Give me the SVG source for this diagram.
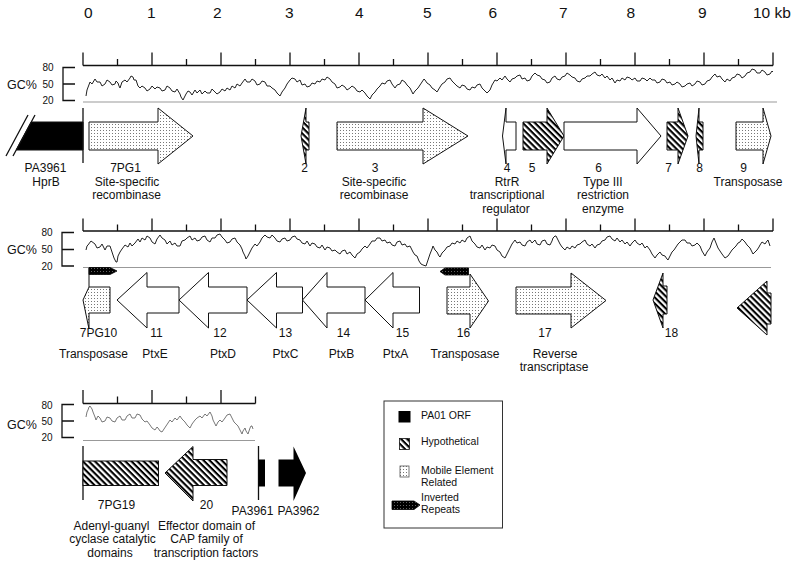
<svg xmlns="http://www.w3.org/2000/svg" width="800" height="566" viewBox="0 0 800 566">
<style>
text{font-family:"Liberation Sans",Arial,sans-serif;fill:#111}
.sc{font-size:15.5px}
.lb{font-size:12px;text-anchor:middle}
.gc{font-size:12.5px}
.tk{font-size:10px;text-anchor:middle}
.lg{font-size:10.5px}
.ax{stroke:#111;stroke-width:1.3;fill:none}
.base{stroke:#999;stroke-width:1;fill:none}
.curve{stroke:#222;stroke-width:1;fill:none;stroke-linejoin:round}
.curve3{stroke:#555;stroke-width:0.8;fill:none}
.g{stroke:#111;stroke-width:1}
.w{fill:#fff}
.d{fill:url(#dots)}
.h{fill:url(#hatch)}
.b{fill:#000}
.ir{fill:url(#irp);stroke:#000;stroke-width:0.8}
</style>
<defs>
<pattern id="dots" width="3" height="3" patternUnits="userSpaceOnUse"><rect width="3" height="3" fill="#fff"/><rect x="1" y="1" width="1" height="1" fill="#777"/></pattern>
<pattern id="hatch" width="4.3" height="4.3" patternUnits="userSpaceOnUse" patternTransform="rotate(45)"><rect width="4.3" height="4.3" fill="#fff"/><rect width="4.3" height="2.1" fill="#000"/></pattern>
<pattern id="irp" width="3" height="3" patternUnits="userSpaceOnUse"><rect width="3" height="3" fill="#000"/><rect x="1" y="1" width="0.8" height="0.8" fill="#999"/></pattern>
</defs>

<g id="scale">
<text class="sc" x="84" y="18">0</text>
<text class="sc" x="147" y="18">1</text>
<text class="sc" x="213" y="18">2</text>
<text class="sc" x="285" y="18">3</text>
<text class="sc" x="355" y="18">4</text>
<text class="sc" x="423" y="18">5</text>
<text class="sc" x="488.5" y="18">6</text>
<text class="sc" x="559" y="18">7</text>
<text class="sc" x="626.5" y="18">8</text>
<text class="sc" x="698" y="18">9</text>
<text class="sc" x="753" y="18">10 kb</text>
</g>

<g id="row1-axis">
<path class="ax" d="M83,65.5H773M83,52.5V65.5M152,52.5V65.5M221,52.5V65.5M290,52.5V65.5M359,52.5V65.5M428,52.5V65.5M497,52.5V65.5M566,52.5V65.5M635,52.5V65.5M704,52.5V65.5M773,52.5V65.5M117.5,59V65.5M186.5,59V65.5M255.5,59V65.5M324.5,59V65.5M393.5,59V65.5M462.5,59V65.5M531.5,59V65.5M600.5,59V65.5M669.5,59V65.5M738.5,59V65.5"/>
<path class="ax" d="M75,67.5H63V100.5H75M63,84H75"/>
<text class="gc" x="7" y="89">GC%</text>
<text class="tk" x="48" y="71">80</text>
<text class="tk" x="48" y="87.5">50</text>
<text class="tk" x="48" y="104">20</text>
<path class="base" d="M83,102H777"/>
<polyline class="curve" points="86,96 87,90 90,82 92,84 95,79 97,82 100,82 102,86 105,84 107,80 110,82 112,85 115,84 116,81 118,83 119,86 120,88 122,82 125,80 127,82 130,78 131,76 133,77 134,80 136,80 138,86 140,88 142,86 145,88 147,91 150,89 152,86 155,89 157,87 160,88 162,91 165,90 167,86 170,88 172,91 175,92 177,89 180,94 181,97 183,100 185,96 186,94 188,91 190,92 192,95 195,90 197,93 200,90 202,94 205,91 207,93 210,93 212,89 215,92 217,94 220,92 222,89 225,91 227,88 230,90 232,86 235,88 237,84 240,86 242,83 245,79 247,82 250,82 252,79 255,81 257,85 260,84 262,81 265,82 267,86 270,86 272,88 275,90 277,93 280,96 282,92 285,88 287,84 290,80 292,78 295,79 297,82 300,80 302,85 305,84 307,87 310,86 312,83 315,84 317,81 320,82 322,79 325,80 327,77 330,79 332,82 335,84 337,88 340,87 342,85 345,87 347,90 350,88 352,86 355,88 357,91 360,92 362,90 365,93 367,96 370,99 372,95 375,92 377,89 380,86 382,83 385,84 387,81 390,80 392,84 395,88 397,85 400,84 402,80 405,82 407,85 410,88 412,92 413,94 415,91 418,88 420,85 422,82 424,79 425,80 427,83 430,85 432,88 435,90 437,92 440,87 442,84 445,82 447,79 450,78 452,81 455,84 457,86 460,88 462,85 465,86 467,89 470,90 472,87 475,88 477,85 480,84 482,88 485,91 487,93 490,90 492,85 495,80 497,81 500,78 502,80 505,76 507,79 510,82 512,79 515,78 517,76 520,75 522,79 525,78 527,81 530,80 532,76 535,73 537,75 540,76 542,79 545,80 547,83 550,82 552,78 555,76 557,79 560,80 562,77 565,76 567,73 570,75 572,77 575,78 577,81 580,82 582,79 585,78 587,76 590,76 592,74 595,72 597,75 600,76 602,74 605,78 607,76 610,80 612,78 615,83 617,80 620,81 622,78 625,80 627,77 630,78 632,80 635,78 637,81 640,81 642,78 645,79 647,81 650,78 652,80 655,80 657,83 660,82 662,79 665,80 667,83 670,82 672,85 675,84 677,82 680,84 682,87 685,86 687,84 690,83 692,86 695,84 697,81 700,82 702,85 705,84 707,81 710,80 712,77 715,74 717,77 720,76 722,79 725,82 727,79 730,81 732,78 735,77 737,74 740,75 742,78 745,76 747,73 750,72 752,69 755,70 757,73 760,73 762,70 765,72 767,75 770,74 772,71 773,72"/>
</g>

<g id="hprB">
<path class="g b" d="M16.2,150L31.2,122H83V150Z"/>
<path class="ax" d="M6,156L28,115M13,156L35,115M83,108V163"/>
<text class="lb" x="45.5" y="171.5">PA3961</text>
<text class="lb" x="46" y="185.5">HprB</text>
</g>
<g id="gene-7PG1">
<path class="g d" d="M89,122H158V108L193,136L158,164V150H89Z"/>
<text class="lb" x="125.5" y="171.5">7PG1</text>
<text class="lb" x="127" y="185.5">Site-specific</text>
<text class="lb" x="126.5" y="199">recombinase</text>
</g>
<g id="gene-2">
<path class="g h" d="M306,108L301,136L306,164V150H309V122H306Z"/>
<text class="lb" x="304.5" y="171.5">2</text>
</g>
<g id="gene-3">
<path class="g d" d="M337,122H423V108L468,136L423,164V150H337Z"/>
<text class="lb" x="375" y="171.5">3</text>
<text class="lb" x="374" y="185.5">Site-specific</text>
<text class="lb" x="374" y="199">recombinase</text>
</g>
<g id="gene-4">
<path class="g w" d="M506,108L502.5,136L506,164V150H516V122H506Z"/>
<text class="lb" x="507" y="171.5">4</text>
<text class="lb" x="507" y="185.5">RtrR</text>
<text class="lb" x="507" y="199">transcriptional</text>
<text class="lb" x="506" y="212.5">regulator</text>
</g>
<g id="gene-5">
<path class="g h" d="M523,122H547V108L564,136L547,164V150H523Z"/>
<text class="lb" x="532" y="171.5">5</text>
</g>
<g id="gene-6">
<path class="g w" d="M564,122H637V108L661,136L637,164V150H564Z"/>
<text class="lb" x="598.5" y="171.5">6</text>
<text class="lb" x="603" y="185.5">Type III</text>
<text class="lb" x="603" y="199">restriction</text>
<text class="lb" x="603" y="212.5">enzyme</text>
</g>
<g id="gene-7">
<path class="g h" d="M667,122H678V108L688,136L678,164V150H667Z"/>
<text class="lb" x="668.5" y="171.5">7</text>
</g>
<g id="gene-8">
<path class="g h" d="M699,108L696,136L699,164V150H703V122H699Z"/>
<text class="lb" x="699.5" y="171.5">8</text>
</g>
<g id="gene-9">
<path class="g d" d="M736,122H763V108L771,136L763,164V150H736Z"/>
<text class="lb" x="743.5" y="171.5">9</text>
<text class="lb" x="748" y="185.5">Transposase</text>
</g>

<g id="row2-axis">
<path class="ax" d="M83,231H773M83,218.5V231M152,218.5V231M221,218.5V231M290,218.5V231M359,218.5V231M428,218.5V231M497,218.5V231M566,218.5V231M635,218.5V231M704,218.5V231M773,218.5V231M117.5,224.5V231M186.5,224.5V231M255.5,224.5V231M324.5,224.5V231M393.5,224.5V231M462.5,224.5V231M531.5,224.5V231M600.5,224.5V231M669.5,224.5V231M738.5,224.5V231"/>
<path class="ax" d="M74,232.5H62V266H74M62,249.5H74"/>
<text class="gc" x="7" y="254">GC%</text>
<text class="tk" x="47" y="236">80</text>
<text class="tk" x="47" y="253">50</text>
<text class="tk" x="47" y="269.5">20</text>
<path class="base" d="M83,267.5H771"/>
<polyline class="curve" points="86,250 87,246 88,245 91,241 95,244 97,248 100,247 102,244 105,250 107,246 110,246 112,252 114,258 116,262 117,262 118,256 120,252 122,249 125,245 128,247 130,243 132,246 135,243 138,239 140,242 142,238 145,240 147,236 150,238 152,242 155,244 157,239 160,235 162,238 165,240 167,244 170,241 172,245 175,243 177,246 180,246 182,241 185,240 187,238 190,236 192,240 195,238 197,241 200,240 202,237 205,236 207,240 210,242 212,238 215,238 217,235 220,234 222,237 225,240 227,243 230,242 232,239 235,238 237,242 240,245 242,249 243,252 245,256 246,259 248,256 250,252 252,248 255,244 257,246 260,242 262,238 265,235 267,237 270,238 272,235 275,238 277,241 280,242 282,239 285,238 287,241 290,240 292,237 295,236 297,239 300,240 302,243 305,244 307,241 310,246 312,243 315,244 317,247 320,248 322,245 325,250 327,247 330,248 332,251 335,250 337,252 340,254 342,251 345,250 347,254 350,252 352,255 355,258 357,254 360,252 362,249 365,246 367,248 370,244 372,241 375,241 377,238 380,238 382,241 385,240 387,243 390,242 392,245 395,246 397,242 400,241 402,245 405,244 407,247 410,246 412,250 413,252 415,255 417,256 419,261 421,264 423,265 426,266 428,260 430,254 432,249 433,246 435,250 437,252 439,256 440,257 442,253 445,250 447,247 450,246 452,243 455,244 457,241 460,243 462,240 465,242 467,238 470,236 472,241 475,244 477,247 480,248 482,245 485,250 487,247 490,248 492,245 495,246 497,250 500,252 502,256 505,258 507,254 510,248 512,244 515,240 517,243 520,242 522,245 525,246 527,242 530,240 532,243 535,240 537,244 540,245 542,241 545,240 547,244 550,245 552,241 553,238 555,236 556,236 558,240 560,244 562,247 565,250 567,247 570,249 572,246 575,248 577,245 580,244 582,242 585,240 587,244 590,246 592,244 595,248 597,245 600,244 602,241 605,240 607,237 610,236 612,239 615,241 617,238 620,242 622,240 625,244 627,242 630,246 632,243 635,240 637,243 640,245 642,243 645,248 647,246 650,250 652,254 655,258 657,255 660,252 662,255 665,256 667,259 668,260 670,256 672,252 674,250 676,247 678,244 680,242 682,240 685,240 687,243 690,243 692,246 695,245 697,243 700,246 702,251 705,256 707,252 710,248 712,242 714,238 716,243 718,248 720,251 722,254 725,258 728,256 730,253 732,250 734,248 736,246 738,243 740,242 742,239 745,242 747,245 750,248 752,252 753,254 755,252 757,250 759,247 760,245 762,242 765,244 767,241 768,240 770,246"/>
</g>

<g id="ir-1">
<path class="ir" d="M89,267.5H110L117,271L110,274.5H89Z"/>
</g>
<g id="gene-7PG10">
<path class="g d" d="M89,268V287H110V313H89V329L83,300L89,287"/>
<text class="lb" x="98.5" y="337">7PG10</text>
<text class="lb" x="93.5" y="357.5">Transposase</text>
</g>
<g id="gene-11">
<path class="g w" d="M117,300L147,272.5V287H179V313H147V328Z"/>
<text class="lb" x="156.5" y="337">11</text>
<text class="lb" x="155" y="357.5">PtxE</text>
</g>
<g id="gene-12">
<path class="g w" d="M179,300L208.5,272.5V287H247V313H208.5V328Z"/>
<text class="lb" x="220" y="337">12</text>
<text class="lb" x="223" y="357.5">PtxD</text>
</g>
<g id="gene-13">
<path class="g w" d="M247,300L276.5,272.5V287H302.5V313H276.5V328Z"/>
<text class="lb" x="285.5" y="337">13</text>
<text class="lb" x="285.5" y="357.5">PtxC</text>
</g>
<g id="gene-14">
<path class="g w" d="M302.5,300L327,272.5V287H365V313H327V328Z"/>
<text class="lb" x="343.5" y="337">14</text>
<text class="lb" x="341.5" y="357.5">PtxB</text>
</g>
<g id="gene-15">
<path class="g w" d="M365,300L393,272.5V287H419.5V313H393V328Z"/>
<text class="lb" x="402.5" y="337">15</text>
<text class="lb" x="395.5" y="357.5">PtxA</text>
</g>
<g id="ir-2">
<path class="ir" d="M440,271.5L445,268H468.5V275H445Z"/>
</g>
<g id="gene-16">
<path class="g d" d="M447,287H470V274L488.5,301L470,328V314H447Z"/>
<text class="lb" x="463.5" y="337">16</text>
<text class="lb" x="465" y="357.5">Transposase</text>
</g>
<g id="gene-17">
<path class="g d" d="M516,287H571V273L606,300.5L571,328V314H516Z"/>
<text class="lb" x="545" y="337">17</text>
<text class="lb" x="555" y="357.5">Reverse</text>
<text class="lb" x="554" y="371">transcriptase</text>
</g>
<g id="gene-18">
<path class="g h" d="M653,300L663,273V286H667V314H663V328Z"/>
<text class="lb" x="671.5" y="337">18</text>
</g>
<g id="gene-19a">
<path class="g h" d="M737,308L767,281V293H771V324H767V335Z"/>
</g>

<g id="row3-axis">
<path class="ax" d="M83,403.5H255.5M83,390V403.5M152,390V403.5M221,390V403.5M117.5,396.5V403.5M186.5,396.5V403.5M255.5,396.5V403.5"/>
<path class="ax" d="M74,404.5H62V437.5H74M62,421H74"/>
<text class="gc" x="7" y="429">GC%</text>
<text class="tk" x="47" y="409">80</text>
<text class="tk" x="47" y="424.5">50</text>
<text class="tk" x="47" y="441">20</text>
<path class="base" d="M83,440.5H255"/>
<polyline class="curve3" points="86,417 87,412 88,410 89,407 90,406 92,409 93,412 95,417 96,420 98,416 100,418 102,422 105,421 107,417 110,418 112,421 115,422 117,418 120,416 122,420 125,420 127,416 130,414 132,418 135,418 137,414 140,415 142,419 145,422 147,421 150,425 152,428 155,430 157,427 158,428 160,431 162,432 164,429 166,426 168,423 170,420 172,422 175,418 177,420 180,416 182,419 185,422 187,425 190,428 192,424 195,420 197,418 200,416 202,418 205,414 207,416 210,412 212,416 213,420 215,424 216,426 218,422 220,420 222,422 225,418 227,415 230,414 232,418 234,422 236,424 238,426 240,430 242,434 243,431 245,428 246,431 248,434 249,431 250,428 251,426 252,426 253,429"/>
</g>

<g id="gene-7PG19">
<path class="ax" d="M83,446V500"/>
<rect class="g h" x="83" y="461" width="75.5" height="24.5"/>
<text class="lb" x="116.5" y="509">7PG19</text>
<text class="lb" x="111.5" y="529.5">Adenyl-guanyl</text>
<text class="lb" x="112.5" y="543">cyclase catalytic</text>
<text class="lb" x="110" y="556.5">domains</text>
</g>
<g id="gene-20">
<path class="g h" d="M165,473L193,446.5V459.5H227V485.5H193V501Z"/>
<text class="lb" x="206.5" y="509">20</text>
<text class="lb" x="206.5" y="529.5">Effector domain of</text>
<text class="lb" x="206.5" y="543">CAP family of</text>
<text class="lb" x="206" y="556.5">transcription factors</text>
</g>
<g id="pa3961">
<path class="ax" d="M258.5,446V500"/>
<rect class="b" x="258.5" y="459.5" width="6.5" height="27"/>
<text class="lb" x="252.5" y="515">PA3961</text>
</g>
<g id="pa3962">
<path class="b" d="M278.5,459.5H293.5V446.5L306,473L293.5,501V486.5H278.5Z"/>
<text class="lb" x="298.5" y="515">PA3962</text>
</g>

<g id="legend">
<rect x="384" y="401" width="118.5" height="127" fill="#fff" stroke="#333" stroke-width="1"/>
<rect class="b" x="398.5" y="411" width="12" height="11.5"/>
<text class="lg" x="421" y="418.5">PA01 ORF</text>
<rect class="h" x="399.5" y="438.5" width="10" height="11" stroke="#111" stroke-width="0.8"/>
<text class="lg" x="421" y="445">Hypothetical</text>
<rect class="d" x="400" y="466" width="9" height="11" stroke="#555" stroke-width="0.8"/>
<text class="lg" x="421" y="473.5">Mobile Element</text>
<text class="lg" x="421" y="486">Related</text>
<path class="ir" d="M392,501H414L420,505L414,509.5H392Z"/>
<text class="lg" x="421" y="501">Inverted</text>
<text class="lg" x="421" y="513">Repeats</text>
</g>
</svg>
